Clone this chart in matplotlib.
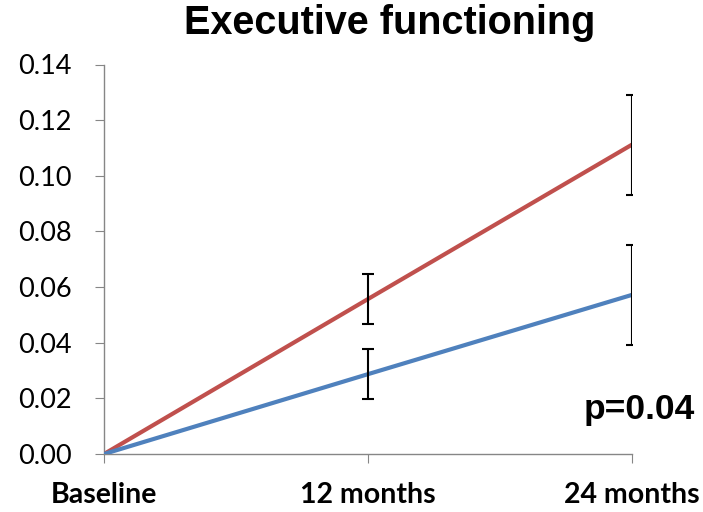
import matplotlib.pyplot as plt
import numpy as np

categories = ['Baseline', '12 months', '24 months']
red_vals = [0.0, 0.0557, 0.1112]
red_err = [0.0, 0.0090, 0.0180]
blue_vals = [0.0, 0.0287, 0.0572]
blue_err = [0.0, 0.0089, 0.0180]

fig = plt.figure(figsize=(7.03, 5.12), dpi=100)
ax = fig.add_axes([104/703, (512-454)/512, (632-104)/703, (454-64.5)/512])

x = np.arange(len(categories))
ax.plot(x, red_vals, color='#C0504D', linewidth=3, solid_capstyle='butt', zorder=3)
ax.plot(x, blue_vals, color='#4F81BD', linewidth=3, solid_capstyle='butt', zorder=3)
ax.errorbar(x[1:], red_vals[1:], yerr=red_err[1:], fmt='none', ecolor='black',
            elinewidth=1.5, capsize=4.5, capthick=1.5, zorder=4)
ax.errorbar(x[1:], blue_vals[1:], yerr=blue_err[1:], fmt='none', ecolor='black',
            elinewidth=1.5, capsize=4.5, capthick=1.5, zorder=4)

ax.set_xlim(0, 2)
ax.set_ylim(0, 0.14)
yt = np.arange(0, 0.141, 0.02)
ax.set_yticks(yt)
ax.set_yticklabels([f'{v:.2f}' for v in yt], fontsize=19.5, family='Lato')
ax.set_xticks(x)
ax.set_xticklabels(categories, fontsize=20.5, fontweight='bold', family='Lato')

for s in ['top', 'right']:
    ax.spines[s].set_visible(False)
for s in ['left', 'bottom']:
    ax.spines[s].set_color('#868686')
    ax.spines[s].set_linewidth(1)
ax.tick_params(axis='y', direction='out', length=6.5, color='#868686', pad=17)
ax.tick_params(axis='x', direction='out', length=6.5, color='#868686', pad=14)

fig.text(390/703, 1 - 23/512, 'Executive functioning', ha='center', va='center',
         fontsize=28.5, fontweight='bold', family='Liberation Sans')
fig.text(639/703, 1 - 410/512, 'p=0.04', ha='center', va='center',
         fontsize=25.5, fontweight='bold', family='Liberation Sans')

fig.savefig('out.png', dpi=100)
